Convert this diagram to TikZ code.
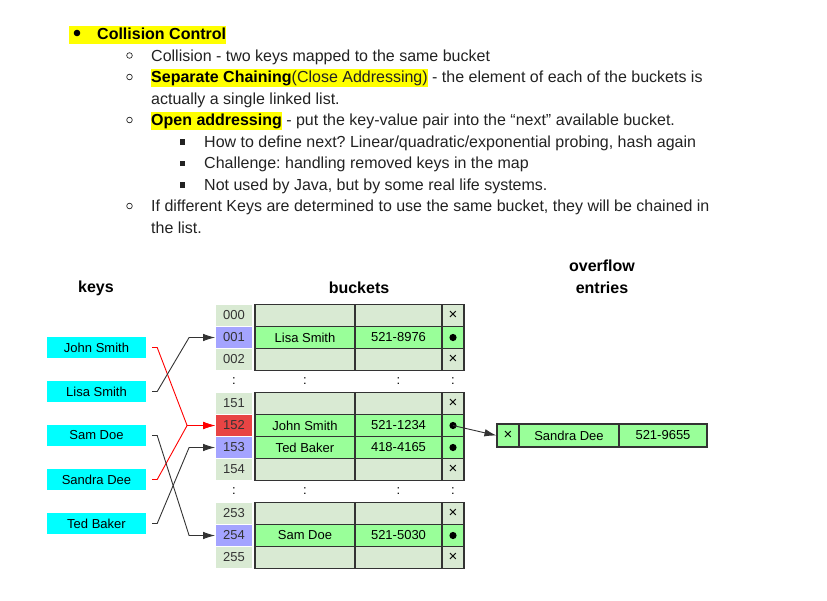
\documentclass[tikz,border=0pt]{standalone}
\usepackage{fontspec}
\setmainfont{Liberation Sans}
\usetikzlibrary{arrows.meta}
\frenchspacing
\definecolor{hlyellow}{RGB}{255,255,0}
\definecolor{keycyan}{RGB}{0,255,255}
\definecolor{idxlt}{RGB}{217,234,211}
\definecolor{idxbl}{RGB}{164,164,255}
\definecolor{idxrd}{RGB}{232,68,68}
\definecolor{rowlt}{RGB}{217,234,211}
\definecolor{rowgr}{RGB}{153,255,153}
\definecolor{gridgray}{RGB}{51,51,51}
\definecolor{txtgray}{RGB}{34,34,34}
\newcommand{\hlite}[1]{{\setlength{\fboxsep}{0pt}\colorbox{hlyellow}{\rule[-4pt]{0pt}{17.5pt}#1}}}
\newcommand{\nullmark}{{\fontsize{15}{15}\selectfont ×}}
\tikzset{
    txt/.style={anchor=base west,inner sep=0pt,text=txtgray,font=\fontsize{16}{19}\selectfont},
    head/.style={inner sep=0pt,align=center,font=\fontsize{16}{22}\selectfont\bfseries},
    keybox/.style={fill=keycyan,minimum width=99pt,minimum height=21pt,inner sep=0pt,font=\fontsize{13}{15}\selectfont},
    idxcell/.style={draw=white,line width=0.8pt,minimum width=37pt,minimum height=22pt,inner sep=0pt,font=\fontsize{13}{15}\selectfont,text=black!80},
    cell/.style={draw=gridgray,line width=1.1pt,minimum height=22pt,inner sep=0pt,font=\fontsize{13}{15}\selectfont},
    dots/.style={inner sep=0pt,font=\fontsize{13}{15}\selectfont},
    link/.style={line width=0.9pt,-{Latex[length=12pt,width=7.5pt]}}
}
\begin{document}
\begin{tikzpicture}[x=1pt,y=-1pt]
                    \useasboundingbox (0,0) rectangle (827,600);
                    \node[txt] (t1) at (69,39.5) {\hlite{\hspace*{28pt}\textbf{\color{black}Collision Control}}};
                    \fill (77,33) circle (3.3);
                    \node[txt] (t2) at (151,61) {Collision - two keys mapped to the same bucket};
                    \node[txt] (t3) at (151,82.5) {\hlite{\textbf{\color{black}Separate Chaining}(Close Addressing)} - the element of each of the buckets is};
                    \node[txt] (t4) at (151,104) {actually a single linked list.};
                    \node[txt] (t5) at (151,125.5) {\hlite{\textbf{\color{black}Open addressing}} - put the key-value pair into the “next” available bucket.};
                    \node[txt] (t6) at (204,147) {How to define next? Linear/quadratic/exponential probing, hash again};
                    \node[txt] (t7) at (204,168.5) {Challenge: handling removed keys in the map};
                    \node[txt] (t8) at (204,190) {Not used by Java, but by some real life systems.};
                    \node[txt] (t9) at (151,211.5) {If different Keys are determined to use the same bucket, they will be chained in};
                    \node[txt] (t10) at (151,233) {the list.};
                    \foreach \yy in {55.5,77,120,206}
                        \draw[txtgray,line width=0.7pt] (129.5,\yy) circle (2.8);
                    \foreach \yy in {141.5,163,184.5}
                        \fill[txtgray] (179.5,\yy-2.5) rectangle ++(5.5,5.5);
                    \node[head] (keys) at (96,288) {keys};
                    \node[head] (buckets) at (359,288) {buckets};
                    \node[head] (overflow) at (602,277) {overflow\\entries};
                    \node[keybox] (john) at (96.5,347.5) {John Smith};
                    \node[keybox] (lisa) at (96.5,391.5) {Lisa Smith};
                    \node[keybox] (sam) at (96.5,435.5) {Sam Doe};
                    \node[keybox] (sandra) at (96.5,479.5) {Sandra Dee};
                    \node[keybox] (ted) at (96.5,523.5) {Ted Baker};
                    \foreach \idx/\yy/\ic/\rc/\nm/\ph/\pt in {
                        000/315.5/idxlt/rowlt/{}/{}/x,
                        001/337.5/idxbl/rowgr/Lisa Smith/521-8976/d,
                        002/359.5/idxlt/rowlt/{}/{}/x,
                        151/403.5/idxlt/rowlt/{}/{}/x,
                        152/425.5/idxrd/rowgr/John Smith/521-1234/d,
                        153/447.5/idxbl/rowgr/Ted Baker/418-4165/d,
                        154/469.5/idxlt/rowlt/{}/{}/x,
                        253/513.5/idxlt/rowlt/{}/{}/x,
                        254/535.5/idxbl/rowgr/Sam Doe/521-5030/d,
                        255/557.5/idxlt/rowlt/{}/{}/x}{
                        \node[idxcell,fill=\ic] (i\idx) at (234,\yy) {\idx};
                        \node[cell,fill=\rc,minimum width=100pt] (n\idx) at (305,\yy) {\nm};
                        \node[cell,fill=\rc,minimum width=87pt] (p\idx) at (398.5,\yy) {\ph};
                        \node[cell,fill=\rc,minimum width=22pt] (q\idx) at (453,\yy) {\if\pt x\nullmark\fi};
                        \if\pt d\fill (q\idx.center) circle (3.6);\fi
                    }
                    \foreach \yy in {381.5,491.5}
                        \foreach \xx in {234,305,398.5,453}
                            \node[dots] at (\xx,\yy) {:};
                    \node[cell,fill=rowgr,minimum width=22pt,minimum height=23pt] (ovx) at (508,435.5) {\nullmark};
                    \node[cell,fill=rowgr,minimum width=100pt,minimum height=23pt] (ovname) at (569,435.5) {Sandra Dee};
                    \node[cell,fill=rowgr,minimum width=88pt,minimum height=23pt] (ovphone) at (663,435.5) {521-9655};
                    \draw[link,gridgray] (q152.center) -- (ovx.west);
                    \draw[link,red] ([xshift=6pt]john.east) -- ++(5,0) -- ([xshift=-28pt]i152.west) -- (i152.west);
                    \draw[link,red] ([xshift=6pt]sandra.east) -- ++(5,0) -- ([xshift=-28pt]i152.west) -- (i152.west);
                    \draw[link,gridgray] ([xshift=6pt]lisa.east) -- ++(5,0) -- ([xshift=-26pt]i001.west) -- (i001.west);
                    \draw[link,gridgray] ([xshift=6pt]sam.east) -- ++(5,0) -- ([xshift=-26pt]i254.west) -- (i254.west);
                    \draw[link,gridgray] ([xshift=6pt]ted.east) -- ++(5,0) -- ([xshift=-26pt]i153.west) -- (i153.west);
\end{tikzpicture}
\end{document}
